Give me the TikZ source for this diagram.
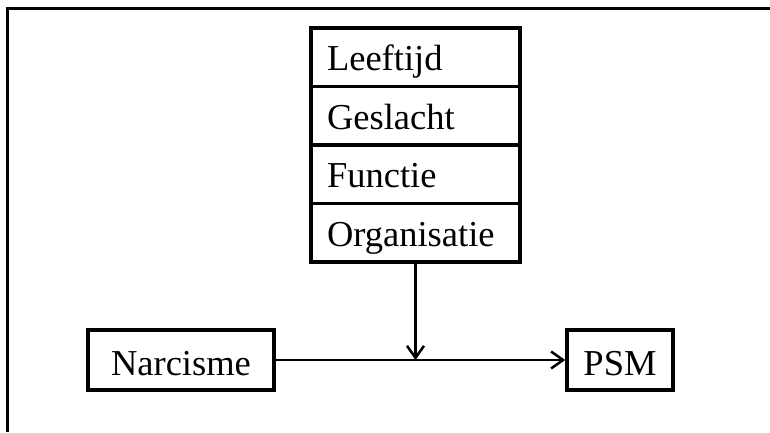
\documentclass[tikz,border=0pt]{standalone}
\usepackage{fontspec}
\setmainfont{Liberation Serif}
\usetikzlibrary{arrows.meta}
\begin{document}
\begin{tikzpicture}[x=1pt,y=-1pt,
  every node/.style={font=\fontsize{36.5}{40}\selectfont},
  rowbox/.style={draw,line width=3.5pt,inner ysep=0pt,inner xsep=16pt,
    text width=177pt,align=left,minimum height=58.5pt,
    text height=42.5pt,text depth=16pt},
  varbox/.style={draw,line width=3.5pt,inner sep=0pt,minimum height=60pt,
    text height=45pt,text depth=15pt,align=center},
  conn/.style={line width=2.5pt,-{Straight Barb[length=12pt,width=17pt,line width=2.5pt]}},
  frame/.style={line width=3.5pt}]
\useasboundingbox (0,0) rectangle (770,432);
\draw[frame] (7.5,432) |- (770,8.5);
\node[rowbox] (leef) at (415.5,57.25) {Leeftijd};
\node[rowbox] (gesl) at (415.5,115.75) {Geslacht};
\node[rowbox] (func) at (415.5,174.25) {Functie};
\node[rowbox] (org)  at (415.5,232.75) {Organisatie};
\node[varbox,minimum width=186pt] (narc) at (181,360) {Narcisme};
\node[varbox,minimum width=106pt] (psm) at (620,360) {PSM};
\coordinate (mid) at (org.south |- narc.east);
\draw[conn] (narc.east) -- (psm.west);
\draw[conn] (org.south) -- (mid);
\end{tikzpicture}
\end{document}
